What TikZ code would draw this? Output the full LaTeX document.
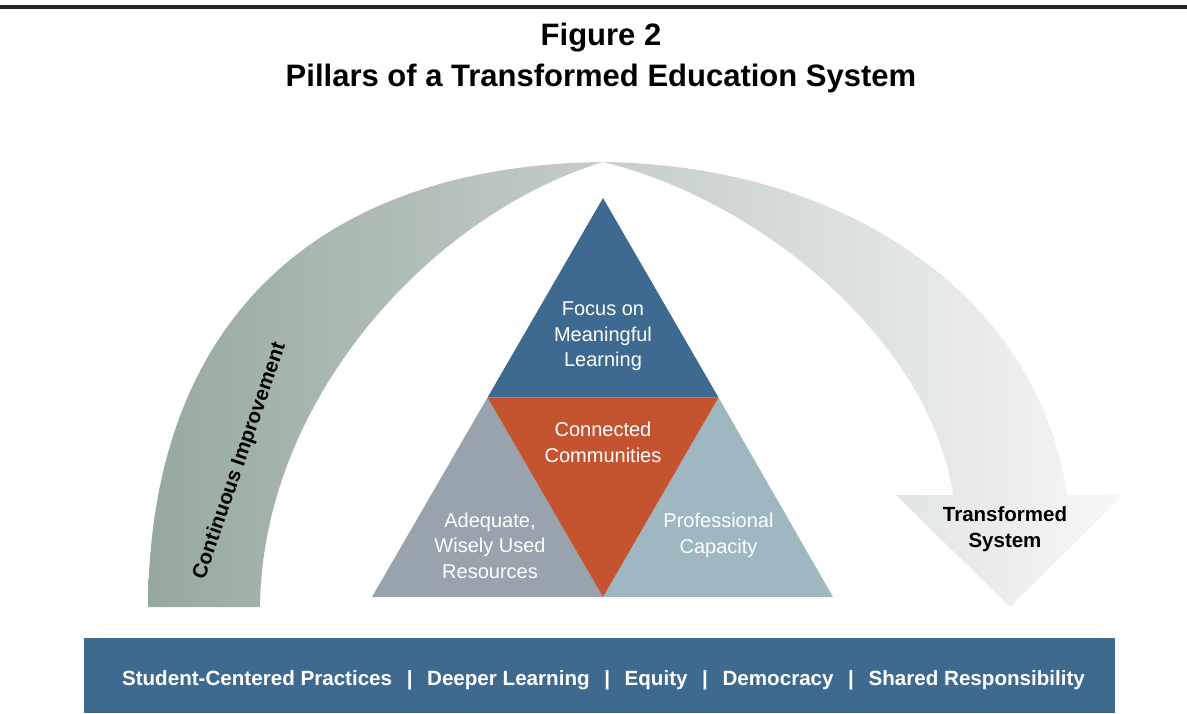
\documentclass[tikz,border=0pt]{standalone}
\usepackage{fontspec}
\setmainfont{Liberation Sans}
\definecolor{tblue}{HTML}{3E6990}
\definecolor{torange}{HTML}{C4532F}
\definecolor{tleft}{HTML}{99A3AD}
\definecolor{tright}{HTML}{9EB7C1}
\definecolor{barblue}{HTML}{3F6A90}
\definecolor{archL}{HTML}{97A99F}
\definecolor{archM}{HTML}{C0CAC5}
\definecolor{archR}{HTML}{F7F7F7}
\begin{document}
\begin{tikzpicture}[x=1pt,y=-1pt,
  titletext/.style={font=\fontsize{31}{40}\selectfont\bfseries, inner sep=0, text=black},
  tritext/.style={font=\fontsize{20}{25.5}\selectfont, align=center, inner sep=0, text=white},
  boldlabel/.style={font=\fontsize{20.5}{25.6}\selectfont\bfseries, align=center, inner sep=0, text=black},
  bartext/.style={font=\fontsize{20.6}{25}\selectfont\bfseries, inner sep=0, text=white}]
\useasboundingbox (0,0) rectangle (1187,713);
% top rule
\coordinate (ruleL) at (0,7);
\coordinate (ruleR) at (1187,7);
\draw[line width=3.5pt, black!85] (ruleL) -- (ruleR);
% title
\node[titletext, anchor=base] (fig) at (601,45.7) {Figure 2};
\node[titletext, anchor=base] (title) at (601,86) {Pillars of a Transformed Education System};
% arch and arrow
\coordinate (apex) at (603,162);
\shade[left color=archL, middle color=archM, right color=archR]
  (148,607) .. controls (150,300) and (340,165) .. (apex)
  .. controls (430,215) and (262,400) .. (260,607) -- cycle
  (apex) .. controls (850,165) and (1040,300) .. (1067,495)
  -- (1123,495) -- (1010,607) -- (896,495) -- (953,495)
  .. controls (930,340) and (760,200) .. (apex) -- cycle;
% triangle
\coordinate (T) at (603,198);
\coordinate (BL) at (372,597);
\coordinate (BR) at (833,597);
\coordinate (ML) at (487.5,397.5);
\coordinate (MR) at (718.5,397.5);
\coordinate (MB) at (603,597);
\fill[tblue] (T) -- (MR) -- (ML) -- cycle;
\fill[tleft] (ML) -- (MB) -- (BL) -- cycle;
\fill[tright] (MR) -- (BR) -- (MB) -- cycle;
\fill[torange] (ML) -- (MR) -- (MB) -- cycle;
% triangle labels
\node[tritext] (focus) at (603,336.5) {Focus on\\Meaningful\\Learning};
\node[tritext] (comm) at (603,442.2) {Connected\\Communities};
\node[tritext] (res) at (490,545.7) {Adequate,\\Wisely Used\\Resources};
\node[tritext] (prof) at (718.5,535.3) {Professional\\Capacity};
% arch labels
\node[boldlabel] (ci) at (240,461) {\rotatebox{71}{Continuous Improvement}};
\node[boldlabel] (ts) at (1005,529.2) {Transformed\\System};
% bottom bar
\coordinate (barTL) at (84,638);
\coordinate (barBR) at (1115,713);
\fill[barblue] (barTL) rectangle (barBR);
\node[bartext, anchor=base] (bar) at (603.5,685) {Student-Centered Practices\hspace{14.6pt}|\hspace{14.6pt}Deeper Learning\hspace{14.6pt}|\hspace{14.6pt}Equity\hspace{14.6pt}|\hspace{14.6pt}Democracy\hspace{14.6pt}|\hspace{14.6pt}Shared Responsibility};
\end{tikzpicture}
\end{document}
